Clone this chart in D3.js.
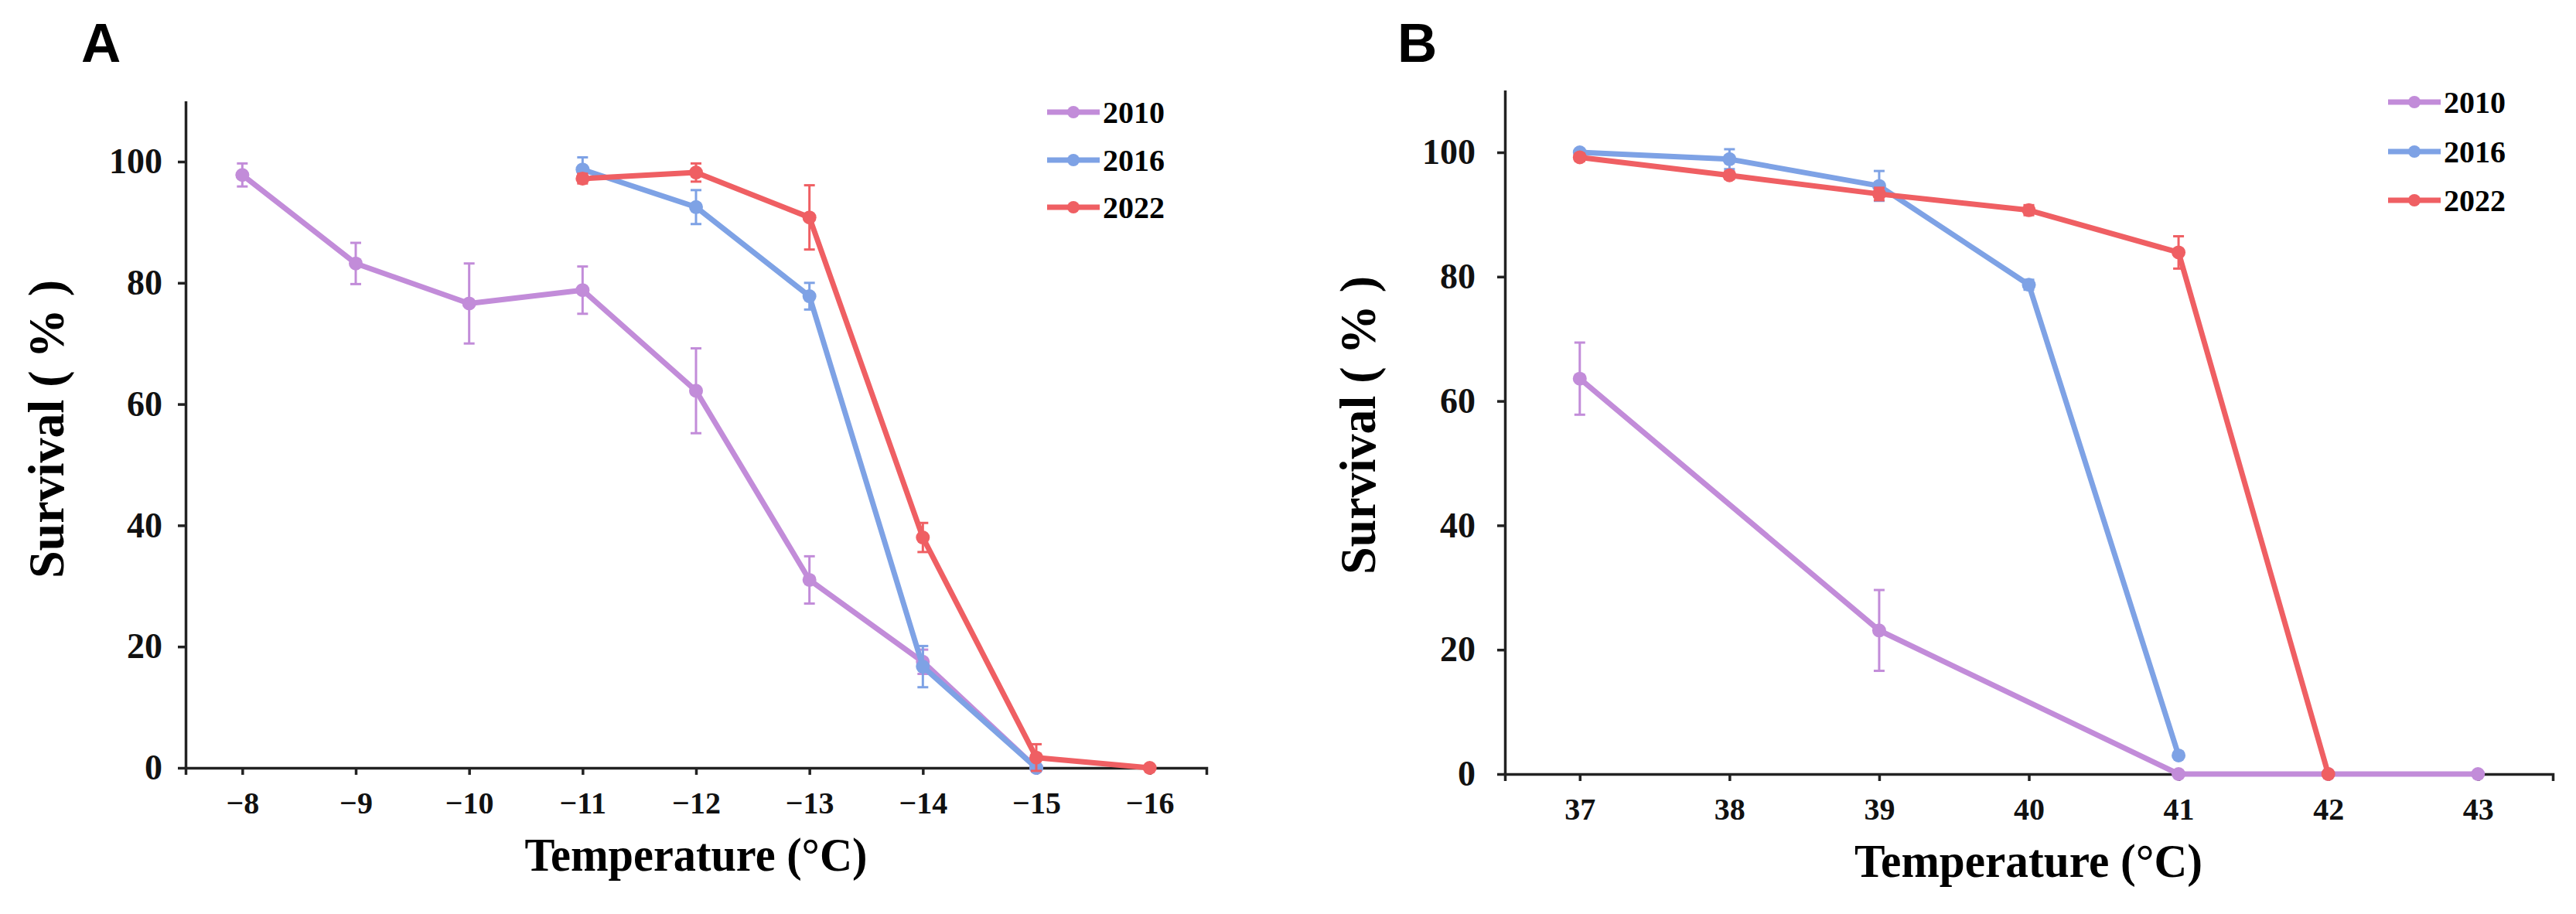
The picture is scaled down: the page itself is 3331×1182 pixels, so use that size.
<!DOCTYPE html>
<html>
<head>
<meta charset="utf-8">
<script src="https://cdn.jsdelivr.net/npm/d3@7"></script>
<style>
  body { margin: 0; background: #fff; }
  text { font-family: "Liberation Serif", "Times New Roman", serif; font-weight: bold; }
</style>
</head>
<body>
<div id="chart"></div>
<script>
const tempsA = ["\u22128", "\u22129", "\u221210", "\u221211", "\u221212", "\u221213", "\u221214", "\u221215", "\u221216"];
const lowT2010 = [97.8, 83.2, 76.6, 78.8, 62.2, 31.0, 17.5, 0, null];
const lowT2010Err = [1.9, 3.4, 6.6, 3.9, 7.0, 3.9, 2.0, 0, null];
const lowT2016 = [null, null, null, 98.7, 92.5, 77.8, 16.7, 0, null];
const lowT2016Err = [null, null, null, 2.0, 2.8, 2.2, 3.4, 0, null];
const lowT2022 = [null, null, null, 97.2, 98.2, 90.8, 38.0, 1.7, 0];
const lowT2022Err = [null, null, null, 0.8, 1.5, 5.3, 2.4, 2.2, 0];

const tempsB = ["37", "38", "39", "40", "41", "42", "43"];
const highT2010 = [63.6, null, 23.1, null, 0, 0, 0];
const highT2010Err = [5.8, null, 6.5, null, 0, 0, 0];
const highT2016 = [100, 98.9, 94.6, 78.7, 3.0, null, null];
const highT2016Err = [0.5, 1.6, 2.4, 0.8, 0, null, null];
const highT2022 = [99.2, 96.3, 93.3, 90.7, 83.9, 0, null];
const highT2022Err = [0.6, 0.6, 1.0, 0.8, 2.6, 0, null];

const years = ["2010", "2016", "2022"];
const yTicks = [0, 20, 40, 60, 80, 100];

const colors = { "2010": "#c28cd9", "2016": "#7ea2e5", "2022": "#ef5f63" };

const svg = d3.select("#chart").append("svg")
  .attr("width", 3331)
  .attr("height", 1182);

function drawPanel(p) {
  let x = d3.scalePoint()
    .domain(p.temps)
    .range([p.left, p.right])
    .padding(0.5);

  let y = d3.scaleLinear()
    .domain([0, 110])
    .range([p.bottom, p.top]);

  let g = svg.append("g");

  // panel letter
  g.append("text")
    .attr("x", p.letterX).attr("y", 80)
    .style("font-family", "'Liberation Sans', Arial, sans-serif")
    .style("font-size", "71px")
    .text(p.letter);

  let yAxis = g.append("g")
    .attr("transform", `translate(${p.left},0)`)
    .call(d3.axisLeft(y).tickValues(yTicks).tickSize(10).tickSizeOuter(0).tickPadding(p.yPad));
  yAxis.selectAll("text").style("font-size", "46px").attr("fill", "#111");

  let xAxis = g.append("g")
    .attr("transform", `translate(0,${p.bottom})`)
    .call(d3.axisBottom(x).tickSize(9).tickSizeOuter(9).tickPadding(22));
  xAxis.selectAll("text").style("font-size", "40px").attr("fill", "#111");

  g.selectAll(".domain, .tick line").attr("stroke", "#222").attr("stroke-width", 3.5);

  // axis titles
  g.append("text")
    .attr("transform", `translate(${p.yLabelX},${p.yLabelY}) rotate(-90)`)
    .attr("text-anchor", "middle")
    .attr("textLength", 386)
    .attr("lengthAdjust", "spacingAndGlyphs")
    .style("font-size", "66px")
    .text("Survival ( % )");

  g.append("text")
    .attr("x", p.xLabelX).attr("y", p.xLabelY)
    .attr("text-anchor", "middle")
    .attr("textLength", p.xLabelLen)
    .attr("lengthAdjust", "spacingAndGlyphs")
    .style("font-size", "62px")
    .text("Temperature (\u00B0C)");

  let line = d3.line()
    .x(d => x(d.t))
    .y(d => y(d.v));

  p.series.forEach(function(s, i) {
    let pts = p.temps.map((t, k) => ({ t: t, v: s.values[k], e: s.errs[k] }))
      .filter(d => d.v != null);
    let c = colors[years[i]];

    g.append("path")
      .datum(pts)
      .attr("d", line)
      .attr("fill", "none")
      .attr("stroke", c)
      .attr("stroke-width", 7)
      .attr("stroke-linejoin", "round");

    let eb = g.selectAll(null)
      .data(pts.filter(d => d.e > 0))
      .enter().append("g")
      .attr("stroke", c)
      .attr("stroke-width", 3);
    eb.append("line")
      .attr("x1", d => x(d.t)).attr("x2", d => x(d.t))
      .attr("y1", d => y(d.v - d.e)).attr("y2", d => y(d.v + d.e));
    eb.append("line")
      .attr("x1", d => x(d.t) - 7).attr("x2", d => x(d.t) + 7)
      .attr("y1", d => y(d.v + d.e)).attr("y2", d => y(d.v + d.e));
    eb.append("line")
      .attr("x1", d => x(d.t) - 7).attr("x2", d => x(d.t) + 7)
      .attr("y1", d => y(d.v - d.e)).attr("y2", d => y(d.v - d.e));

    g.selectAll(null)
      .data(pts)
      .enter().append("circle")
      .attr("cx", d => x(d.t))
      .attr("cy", d => y(d.v))
      .attr("r", 9)
      .attr("fill", c);

    // legend entry
    let ly = p.legendY[i];
    g.append("line")
      .attr("x1", p.legendX).attr("x2", p.legendX + 68)
      .attr("y1", ly).attr("y2", ly)
      .attr("stroke", c).attr("stroke-width", 7);
    g.append("circle")
      .attr("cx", p.legendX + 34).attr("cy", ly).attr("r", 8)
      .attr("fill", c);
    g.append("text")
      .attr("x", p.legendX + 72).attr("y", ly)
      .attr("dy", "0.35em")
      .style("font-size", "40px")
      .text(years[i]);
  });
}

drawPanel({
  letter: "A", letterX: 105,
  temps: tempsA,
  left: 240, right: 1560, top: 130.6, bottom: 993,
  yPad: 20,
  yLabelX: 82, yLabelY: 555,
  xLabelX: 900, xLabelY: 1126, xLabelLen: 443,
  legendX: 1354, legendY: [145, 207, 268],
  series: [
    { values: lowT2010, errs: lowT2010Err },
    { values: lowT2016, errs: lowT2016Err },
    { values: lowT2022, errs: lowT2022Err }
  ]
});

drawPanel({
  letter: "B", letterX: 1807,
  temps: tempsB,
  left: 1946, right: 3301, top: 116.6, bottom: 1001,
  yPad: 28,
  yLabelX: 1778, yLabelY: 550,
  xLabelX: 2623, xLabelY: 1134, xLabelLen: 450,
  legendX: 3088, legendY: [132, 196, 259],
  series: [
    { values: highT2010, errs: highT2010Err },
    { values: highT2016, errs: highT2016Err },
    { values: highT2022, errs: highT2022Err }
  ]
});
</script>
</body>
</html>
